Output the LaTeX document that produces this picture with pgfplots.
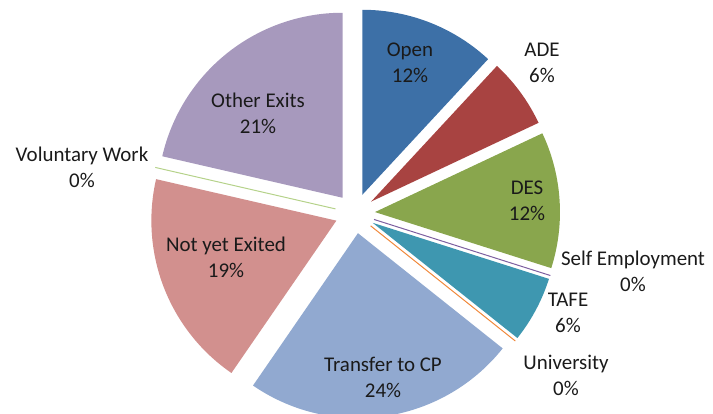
\documentclass[border=0pt]{standalone}
\usepackage{pgfplots}
\pgfplotsset{compat=1.18}
\usepackage{fontspec}
\setmainfont{Carlito}
\definecolor{cOpen}{HTML}{3D70A7}
\definecolor{cADE}{HTML}{A84341}
\definecolor{cDES}{HTML}{89A64D}
\definecolor{cSE}{HTML}{7D5FA0}
\definecolor{cTAFE}{HTML}{3E97B0}
\definecolor{cUni}{HTML}{F0883A}
\definecolor{cTrans}{HTML}{91A9D0}
\definecolor{cNot}{HTML}{D2908E}
\definecolor{cVol}{HTML}{B5D28A}
\definecolor{cOther}{HTML}{A799BD}
\definecolor{txt}{HTML}{1A1A1A}
\newcommand\cum{0}
\newcommand\pcx{355}
\newcommand\pcy{-213.4}
\newcommand\prad{185}
\newcommand\pexp{20}
% #1 = percent value, #2 = colour
\newcommand{\slice}[2]{%
  \pgfmathsetmacro\aS{90-3.6*\cum}%
  \pgfmathsetmacro\aE{90-3.6*(\cum+#1)}%
  \pgfmathsetmacro\aM{(\aS+\aE)/2}%
  \pgfmathsetmacro\cx{\pcx+\pexp*cos(\aM)}%
  \pgfmathsetmacro\cy{\pcy+\pexp*sin(\aM)}%
  \pgfmathparse{#1>0?1:0}%
  \ifnum\pgfmathresult=1
    \edef\doit{\noexpand\addplot[fill=#2, draw=none, domain=\aE:\aS, samples=90, variable=\noexpand\t]
      ({\cx+\prad*cos(\noexpand\t)},{\cy+\prad*sin(\noexpand\t)}) -- (axis cs:\cx,\cy) -- cycle;}%
  \else
    \pgfmathsetmacro\ex{\cx+\prad*cos(\aM)}%
    \pgfmathsetmacro\ey{\cy+\prad*sin(\aM)}%
    \edef\doit{\noexpand\addplot[draw=#2, line width=1bp] coordinates {(\cx,\cy) (\ex,\ey)};}%
  \fi
  \doit
  \pgfmathsetmacro\newcum{\cum+#1}%
  \global\let\cum\newcum
}
\begin{document}
\begin{tikzpicture}
\useasboundingbox (0,0) rectangle (713bp,414bp);
\begin{axis}[
  at={(0,0)}, anchor=south west,
  width=713bp, height=414bp, scale only axis,
  xmin=0, xmax=713, ymin=-414, ymax=0,
  hide axis, clip=true,
]
\slice{11.9}{cOpen}
\slice{6.1}{cADE}
\slice{11.9}{cDES}
\slice{0}{cSE}
\slice{5.8}{cTAFE}
\slice{0}{cUni}
\slice{23.9}{cTrans}
\slice{19.0}{cNot}
\slice{0}{cVol}
\slice{21.4}{cOther}
\end{axis}
\begin{scope}[every node/.style={align=center, text=txt, font=\fontsize{21}{26}\selectfont}]
\node at (410bp,414bp-63bp) {Open\\12\%};
\node at (542bp,414bp-63bp) {ADE\\6\%};
\node at (527bp,414bp-201bp) {DES\\12\%};
\node at (633bp,414bp-271bp) {Self Employment\\0\%};
\node at (568bp,414bp-313bp) {TAFE\\6\%};
\node at (566bp,414bp-375bp) {University\\0\%};
\node at (383bp,414bp-377bp) {Transfer to CP\\24\%};
\node at (226bp,414bp-257bp) {Not yet Exited\\19\%};
\node at (82bp,414bp-167bp) {Voluntary Work\\0\%};
\node at (258bp,414bp-113bp) {Other Exits\\21\%};
\end{scope}
\end{tikzpicture}
\end{document}
